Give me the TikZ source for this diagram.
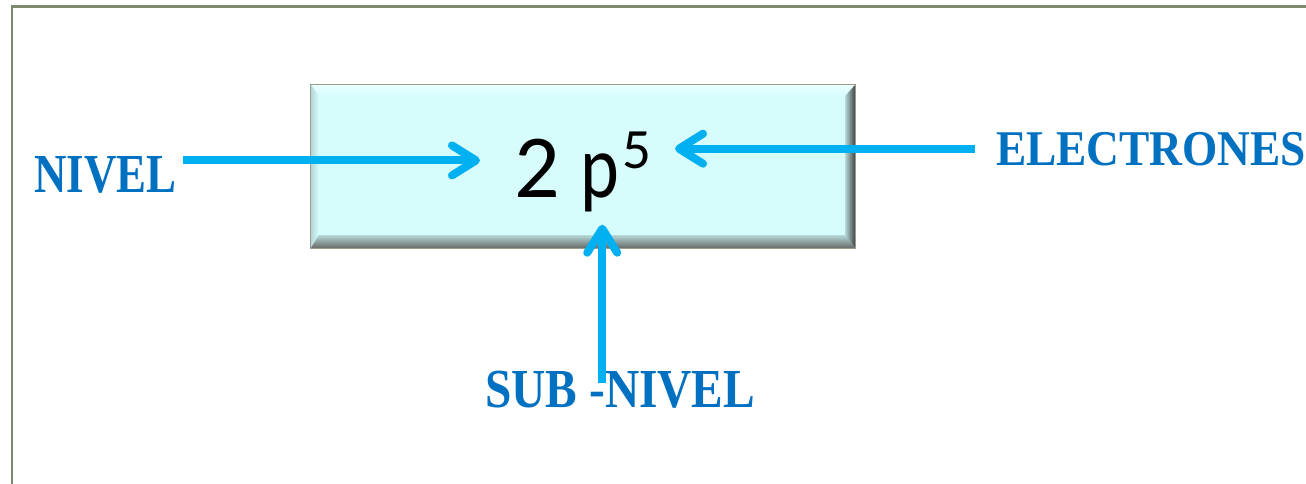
\documentclass[tikz,border=0pt]{standalone}
\usepackage{fontspec}
\usetikzlibrary{arrows.meta}
\newfontfamily\calibri{Carlito}
\newfontfamily\cambria{Liberation Serif}
\definecolor{lblue}{HTML}{0070C0}
\definecolor{arrowc}{HTML}{00B0F0}
\definecolor{framec}{HTML}{7E8A6E}
\definecolor{face}{HTML}{D6FCFC}
\definecolor{facelight}{HTML}{EAFFFF}
\definecolor{facemid}{HTML}{B4D6D6}
\definecolor{bevdark}{HTML}{3E4440}
\definecolor{boxline}{HTML}{9C9C8C}
\begin{document}
\begin{tikzpicture}[x=1pt,y=-1pt,
  lbl/.style={inner sep=0pt, text=lblue, font=\cambria\bfseries},
  conn/.style={draw=arrowc, line width=8pt, -{Straight Barb[length=24pt,width=30pt,round]}},
]
\useasboundingbox (0,0) rectangle (1306,483);
\fill[white] (0,0) rectangle (1306,483);
\draw[framec, line width=2.5pt] (12,6.5) rectangle (1400,600);
% bevelled box
\node[minimum width=544pt, minimum height=163pt, inner sep=0pt, fill=face] (box) at (583,166.5) {};
\shade[top color=facelight, bottom color=face] (box.north west) -- (box.north east) -- ([xshift=-10pt,yshift=-11pt]box.north east) -- ([xshift=10pt,yshift=-11pt]box.north west) -- cycle;
\shade[left color=facemid, right color=face] (box.north west) -- ([xshift=8pt,yshift=-11pt]box.north west) -- ([xshift=8pt,yshift=13pt]box.south west) -- (box.south west) -- cycle;
\shade[left color=facemid, right color=bevdark] (box.north east) -- ([xshift=-10pt,yshift=-11pt]box.north east) -- ([xshift=-10pt,yshift=13pt]box.south east) -- (box.south east) -- cycle;
\shade[top color=facemid, bottom color=bevdark!80] (box.south west) -- ([xshift=8pt,yshift=13pt]box.south west) -- ([xshift=-10pt,yshift=13pt]box.south east) -- (box.south east) -- cycle;
\draw[boxline, line width=1pt] (box.north west) rectangle (box.south east);
% formula
\node[anchor=base west, inner sep=0pt, font=\calibri\fontsize{90}{90}\selectfont] (formula) at (514,197) {2 \scalebox{0.82}[1]{p}\hspace{4pt}\raisebox{29pt}{\fontsize{57}{57}\selectfont 5}};
% labels
\node[lbl, anchor=base west] (nivel) at (34,192) {\fontsize{55}{55}\selectfont\scalebox{0.816}[1]{NIVEL}};
\node[lbl, anchor=base west] (electrones) at (996,165) {\fontsize{50}{50}\selectfont\scalebox{0.907}[1]{ELECTRONES}};
\node[lbl, anchor=base west] (subnivel) at (485,407) {\fontsize{55}{55}\selectfont\scalebox{0.862}[1]{SUB -NIVEL}};
% connectors
\draw[conn, shorten <=6pt, shorten >=34pt] ([yshift=14pt]nivel.east) -- ([yshift=14pt]nivel.east -| formula.west);
\draw[conn, shorten <=21pt, shorten >=23pt] (electrones.west) -- (electrones.west -| formula.east);
\draw[conn, shorten <=-13pt, shorten >=13pt] ([xshift=-18pt]subnivel.north) -- ([xshift=-18pt]subnivel.north |- formula.south);
\end{tikzpicture}
\end{document}
